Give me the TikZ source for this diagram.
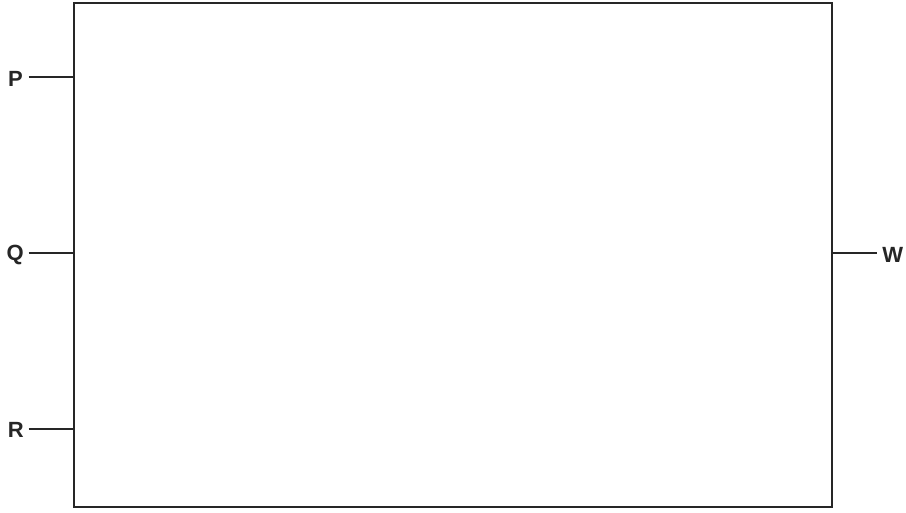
\documentclass[tikz,border=0pt]{standalone}
\usepackage{fontspec}
\setmainfont{Liberation Sans}
\begin{document}
\begin{tikzpicture}[x=0.75pt,y=-0.75pt,
  boxline/.style={line width=1.5pt,draw=black!85},
  lead/.style={line width=1.1pt,draw=black!85},
  lbl/.style={font=\fontsize{16.5}{19}\selectfont\bfseries,text=black!85,inner sep=0pt}]
\useasboundingbox (0,0) rectangle (906,512);
\node[boxline,rectangle,minimum width=758*0.75pt,minimum height=503.5*0.75pt,inner sep=0pt] (box) at (453,255) {};
\coordinate (pin) at (73.5,77);
\coordinate (qin) at (73.5,253);
\coordinate (rin) at (73.5,429);
\coordinate (win) at (832,253);
\node[lbl,anchor=east] (P) at (23,78.5) {P};
\node[lbl,anchor=east] (Q) at (24,254.5) {Q};
\node[lbl,anchor=east] (R) at (24,430) {R};
\node[lbl,anchor=west] (W) at (882,254.5) {W};
\coordinate (pout) at (28.5,77);
\coordinate (qout) at (28.5,253);
\coordinate (rout) at (28.5,429);
\coordinate (wout) at (877,253);
\draw[lead] (pout) -- (pin);
\draw[lead] (qout) -- (qin);
\draw[lead] (rout) -- (rin);
\draw[lead] (win) -- (wout);
\end{tikzpicture}
\end{document}
